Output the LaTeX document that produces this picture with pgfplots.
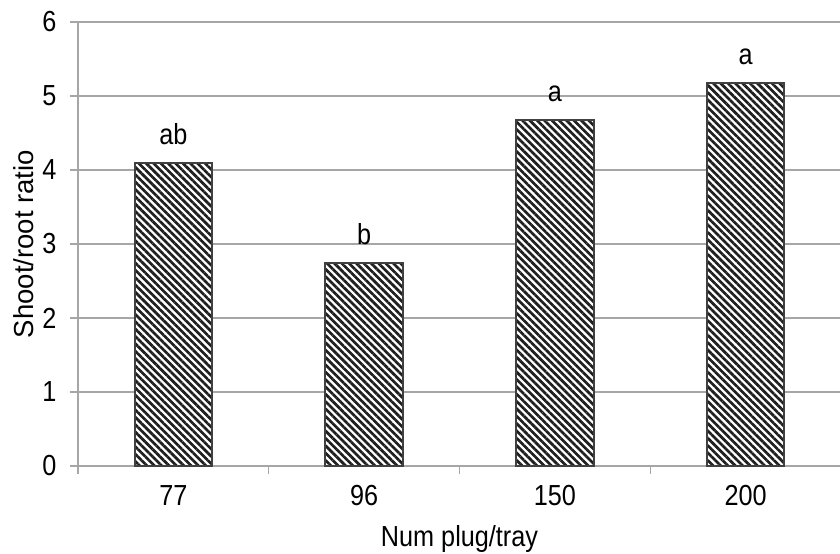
\documentclass[border=0pt]{standalone}
\usepackage{pgfplots}
\pgfplotsset{compat=1.18}
\usepackage{fontspec}
\setmainfont[FakeStretch=0.87]{Liberation Sans}
\newfontfamily\ylabfont{Liberation Sans}
\usetikzlibrary{patterns.meta}

\definecolor{gridgray}{HTML}{A6A6A6}
\definecolor{bardraw}{HTML}{404040}
\definecolor{hatch}{HTML}{1F1F1F}

\begin{document}
\begin{tikzpicture}
\begin{axis}[
  scale only axis,
  width=763pt, height=444pt,
  xmin=-0.5, xmax=3.5,
  ymin=0, ymax=6,
  ytick={0,1,2,3,4,5,6},
  xtick={0,1,2,3},
  xticklabels={77,96,150,200},
  extra x ticks={-0.5,0.5,1.5,2.5,3.5},
  extra x tick labels={},
  extra x tick style={grid=none, xtick style={draw=gridgray, line width=1.2pt}, major tick length=8pt},
  xtick style={draw=none},
  ytick style={draw=gridgray, line width=1.2pt},
  major tick length=8pt,
  tick align=outside,
  axis x line*=bottom,
  axis y line*=left,
  axis line style={draw=gridgray, line width=1.2pt},
  ymajorgrids,
  grid style={draw=gridgray, line width=1.2pt},
  /pgf/number format/assume math mode=true,
  tick label style={font=\fontsize{29}{31}\selectfont},
  yticklabel style={xshift=-10pt},
  xticklabel style={yshift=-8pt},
  xlabel={Num plug/tray},
  ylabel={Shoot/root ratio},
  xlabel style={font=\fontsize{29}{31}\selectfont, at={(axis description cs:0.5,0)}, anchor=base, yshift=-81pt},
  ylabel style={font=\ylabfont\fontsize{27.5}{29}\selectfont, at={(axis description cs:0,0.5)}, anchor=center, yshift=54pt},
  bar width=0.405,
  clip=false,
]
\addplot[ybar, draw=bardraw, line width=2pt, fill=white,
  postaction={pattern={Lines[angle=-45, distance=5.2pt, line width=2.7pt]}, pattern color=hatch},
  nodes near coords, point meta=explicit symbolic,
  nodes near coords style={font=\fontsize{29}{31}\selectfont, text=black, yshift=14pt}]
  coordinates {(0,4.09)[ab] (1,2.74)[b] (2,4.67)[a] (3,5.18)[a]};
\end{axis}
\pgfresetboundingbox
\path[use as bounding box] ([xshift=-78pt,yshift=-88pt]current axis.south west) rectangle ([xshift=-1pt,yshift=22pt]current axis.north east);
\end{tikzpicture}
\end{document}
